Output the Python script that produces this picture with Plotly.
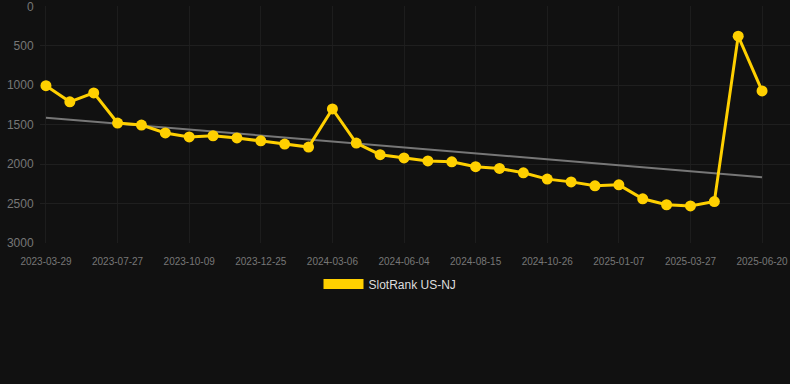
import numpy as np
import plotly.graph_objects as go

dates = [
    "2023-03-29", "2023-05-08", "2023-06-17", "2023-07-27", "2023-08-21", "2023-09-15",
    "2023-10-09", "2023-11-04", "2023-11-30", "2023-12-25", "2024-01-18", "2024-02-11",
    "2024-03-06", "2024-04-05", "2024-05-05", "2024-06-04", "2024-06-28", "2024-07-22",
    "2024-08-15", "2024-09-08", "2024-10-02", "2024-10-26", "2024-11-19", "2024-12-14",
    "2025-01-07", "2025-02-02", "2025-02-28", "2025-03-27", "2025-04-24", "2025-05-22",
    "2025-06-20",
]
ranks = [
    1005, 1210, 1097, 1479, 1505, 1605, 1655, 1640, 1668, 1705, 1745, 1783,
    1300, 1733, 1880, 1922, 1960, 1970, 2033, 2055, 2110, 2190, 2225, 2275,
    2263, 2440, 2515, 2530, 2475, 377, 1072,
]
tick_dates = dates[::3]
y_ticks = [0, 500, 1000, 1500, 2000, 2500, 3000]
series_name = "SlotRank US-NJ"

yellow = "#FFD000"
idx = np.arange(len(ranks))
slope, intercept = np.polyfit(idx, ranks, 1)
trend = [intercept, intercept + slope * idx[-1]]

fig = go.Figure()
fig.add_trace(go.Scatter(
    x=[dates[0], dates[-1]], y=trend, mode="lines",
    line=dict(color="#777777", width=2), showlegend=False, hoverinfo="skip",
))
fig.add_trace(go.Scatter(
    x=dates, y=ranks, mode="lines+markers",
    line=dict(color=yellow, width=3),
    marker=dict(color=yellow, size=11),
    showlegend=False, name=series_name,
))
fig.add_trace(go.Scatter(
    x=[None], y=[None], mode="lines", name=series_name,
    line=dict(color=yellow, width=12), showlegend=True,
))

fig.update_layout(
    width=790, height=384,
    margin=dict(l=40, r=0, t=6, b=141),
    paper_bgcolor="#111111", plot_bgcolor="#111111",
    font=dict(family="Arial, Liberation Sans, sans-serif", color="#777777"),
    showlegend=True,
    legend=dict(
        orientation="h", xref="container", yref="container",
        x=0.5 - 5 / 790, xanchor="center", y=1 - 284 / 384, yanchor="middle",
        font=dict(size=12, color="#dddddd"), itemwidth=40,
        bgcolor="rgba(0,0,0,0)",
    ),
    xaxis=dict(
        type="category", categoryorder="array", categoryarray=dates,
        range=[-0.25, 31.17], tickvals=tick_dates, ticktext=tick_dates,
        showgrid=True, gridcolor="#1d1d1d", gridwidth=1,
        tickfont=dict(size=10, color="#777777"), showline=False, zeroline=False,
        ticks="outside", ticklen=9, tickcolor="rgba(0,0,0,0)",
        ticklabeloverflow="allow",
    ),
    yaxis=dict(
        range=[3000, -5], tickvals=y_ticks,
        showgrid=True, gridcolor="#1f1f1f", gridwidth=1,
        tickfont=dict(size=12, color="#777777"), zeroline=False, showline=False,
        ticks="outside", ticklen=3, tickcolor="rgba(0,0,0,0)",
        ticklabeloverflow="allow",
    ),
)

fig.write_html(
    "out.html",
    config={"displayModeBar": False},
    post_script="document.body.style.margin='0';document.body.style.background='#111111';",
)
